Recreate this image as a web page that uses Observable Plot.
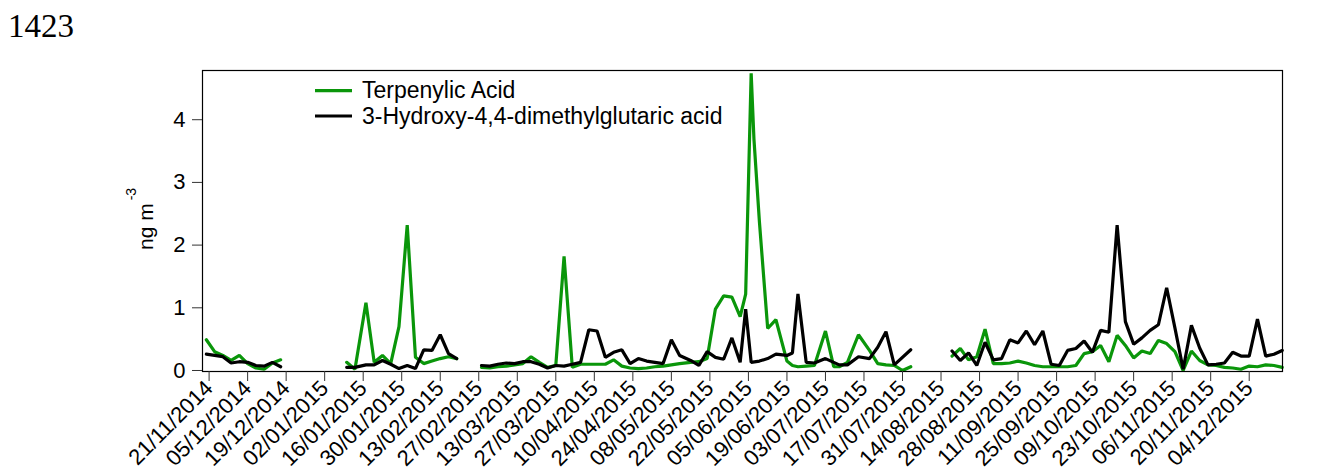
<!DOCTYPE html>
<html><head><meta charset="utf-8">
<script src="https://cdn.jsdelivr.net/npm/d3@7"></script>
<script src="https://cdn.jsdelivr.net/npm/@observablehq/plot@0.6"></script>
<style>
html,body{margin:0;padding:0;background:#fff;}
#chart{position:relative;width:1333px;height:474px;}
</style></head><body><div id="chart"></div>
<script>
// ---- data ----
const dates = [
  "2014-11-20","2014-11-23","2014-11-26","2014-11-29","2014-12-02","2014-12-05","2014-12-08","2014-12-11","2014-12-14","2014-12-17",
  "2015-01-10","2015-01-13","2015-01-17","2015-01-20","2015-01-23","2015-01-26","2015-01-29","2015-02-01","2015-02-04","2015-02-07","2015-02-10","2015-02-13","2015-02-16","2015-02-19",
  "2015-02-28","2015-03-03","2015-03-06","2015-03-09","2015-03-12","2015-03-15","2015-03-18","2015-03-21","2015-03-24","2015-03-27",
  "2015-03-30","2015-04-02","2015-04-05","2015-04-08","2015-04-11","2015-04-14","2015-04-17","2015-04-20","2015-04-23","2015-04-26",
  "2015-04-29","2015-05-02","2015-05-05","2015-05-08","2015-05-11","2015-05-15","2015-05-18","2015-05-21","2015-05-24","2015-05-27",
  "2015-05-30","2015-06-02","2015-06-04","2015-06-06","2015-06-07","2015-06-09","2015-06-12","2015-06-15","2015-06-19","2015-06-21",
  "2015-06-23","2015-06-26","2015-06-29","2015-07-03","2015-07-06","2015-07-08","2015-07-11","2015-07-15","2015-07-19","2015-07-22",
  "2015-07-25","2015-07-28","2015-07-31","2015-08-03",
  "2015-08-18","2015-08-21","2015-08-24","2015-08-27","2015-08-30","2015-09-02","2015-09-05","2015-09-08","2015-09-11","2015-09-14",
  "2015-09-17","2015-09-20","2015-09-23","2015-09-26","2015-09-29","2015-10-02","2015-10-05","2015-10-08","2015-10-11","2015-10-14",
  "2015-10-17","2015-10-20","2015-10-23","2015-10-26","2015-10-29","2015-11-01","2015-11-04","2015-11-07","2015-11-10","2015-11-13",
  "2015-11-16","2015-11-19","2015-11-22","2015-11-25","2015-11-28","2015-12-01","2015-12-04","2015-12-07","2015-12-10","2015-12-13",
  "2015-12-16"
];
const terpenylic = [
  0.49,0.30,0.24,0.16,0.24,0.11,0.04,0.02,0.12,0.17,
  0.13,0.02,1.08,0.13,0.24,0.11,0.70,2.32,0.21,0.11,0.15,0.19,0.22,0.19,
  0.05,0.04,0.06,0.07,0.09,0.11,0.22,0.13,0.05,0.08,
  1.82,0.05,0.10,0.10,0.10,0.10,0.17,0.07,0.04,0.03,
  0.04,0.06,0.07,0.09,0.11,0.13,0.14,0.19,0.98,1.19,
  1.17,0.86,1.22,4.74,3.70,2.37,0.67,0.81,0.15,0.08,
  0.06,0.07,0.08,0.63,0.06,0.06,0.13,0.57,0.32,0.11,
  0.09,0.08,0.00,0.06,
  0.23,0.35,0.17,0.22,0.66,0.11,0.11,0.12,0.15,0.12,
  0.08,0.06,0.06,0.06,0.06,0.08,0.27,0.30,0.40,0.14,
  0.56,0.40,0.20,0.31,0.27,0.48,0.43,0.30,0.00,0.31,
  0.16,0.09,0.08,0.05,0.04,0.02,0.07,0.06,0.09,0.08,
  0.05
];
const hdmga = [
  0.26,0.24,0.22,0.12,0.14,0.13,0.08,0.07,0.13,0.06,
  0.05,0.05,0.09,0.09,0.16,0.10,0.03,0.08,0.03,0.33,0.32,0.57,0.27,0.19,
  0.08,0.07,0.10,0.12,0.11,0.14,0.14,0.10,0.04,0.08,
  0.07,0.10,0.13,0.65,0.63,0.21,0.29,0.33,0.11,0.19,
  0.15,0.13,0.11,0.49,0.24,0.16,0.08,0.30,0.21,0.18,
  0.52,0.13,0.98,0.13,null,0.15,0.19,0.26,0.24,0.28,
  1.22,0.13,0.12,0.19,0.13,0.09,0.09,0.22,0.19,0.37,
  0.62,0.09,null,0.33,
  0.31,0.16,0.28,0.08,0.45,0.17,0.19,0.49,0.44,0.63,
  0.41,0.63,0.10,0.08,0.32,0.35,0.47,0.29,0.64,0.61,
  2.32,0.78,0.42,0.52,0.64,0.73,1.32,0.68,0.02,0.72,
  0.36,0.09,0.10,0.12,0.29,0.23,0.23,0.82,0.23,0.26,
  0.32
];
const xTickLabels = [
  "21/11/2014","05/12/2014","19/12/2014","02/01/2015","16/01/2015","30/01/2015","13/02/2015",
  "27/02/2015","13/03/2015","27/03/2015","10/04/2015","24/04/2015","08/05/2015","22/05/2015",
  "05/06/2015","19/06/2015","03/07/2015","17/07/2015","31/07/2015","14/08/2015","28/08/2015",
  "11/09/2015","25/09/2015","09/10/2015","23/10/2015","06/11/2015","20/11/2015","04/12/2015"
];
const yTicks = [0, 1, 2, 3, 4];
const seriesNames = ["Terpenylic Acid", "3-Hydroxy-4,4-dimethylglutaric acid"];
const seriesColors = ["#0a960a", "#000000"];
const figureNumber = "1423";

// ---- build ----
const parseISO = d3.utcParse("%Y-%m-%d");
const parseTick = d3.utcParse("%d/%m/%Y");
const fmtTick = d3.utcFormat("%d/%m/%Y");

const rows = dates.map((d, i) => ({date: parseISO(d), t: terpenylic[i], h: hdmga[i]}));
let seg = 0;
rows.forEach((r, i) => { if (i > 0 && (r.date - rows[i - 1].date) > 7 * 864e5) seg++; r.seg = seg; });
const greenRows = rows.filter(r => r.t != null);
const blackRows = rows.filter(r => r.h != null);

const plot = Plot.plot({
  width: 1333, height: 474,
  marginLeft: 202, marginRight: 51, marginTop: 70, marginBottom: 103,
  style: {fontFamily: "'Liberation Sans', Arial, sans-serif", fontSize: "22px", background: "#fff", color: "#000", overflow: "visible"},
  x: {type: "utc", domain: [new Date(Date.UTC(2014, 10, 18, 14, 24)), new Date(Date.UTC(2015, 11, 16, 2, 24))]},
  y: {domain: [-0.016, 4.785]},
  marks: [
    Plot.line(greenRows, {x: "date", y: "t", z: "seg", stroke: seriesColors[0], strokeWidth: 3.2, strokeLinejoin: "miter"}),
    Plot.line(blackRows, {x: "date", y: "h", z: "seg", stroke: seriesColors[1], strokeWidth: 3.2, strokeLinejoin: "miter"}),
    Plot.frame({stroke: "#000", strokeWidth: 1.2}),
    Plot.axisY({ticks: yTicks, tickSize: 10, tickPadding: 7, label: null, fontSize: 22, stroke: "#333", tickFormat: d3.format("d")}),
    Plot.axisX({ticks: xTickLabels.map(parseTick), tickSize: 10, tickRotate: -45, tickFormat: fmtTick, label: null, fontSize: 22, tickPadding: 3, stroke: "#333"})
  ]
});
document.getElementById("chart").appendChild(plot);

const svg = d3.select(plot);
svg.append("text").attr("x", 8).attr("y", 36.7).attr("text-anchor", "start")
  .style("font-family", "'Liberation Serif', 'Times New Roman', serif").style("font-size", "33px")
  .attr("fill", "#000").text(figureNumber);

// y-axis title with superscript
const yl = svg.append("text").attr("transform", "translate(153,250) rotate(-90)").attr("text-anchor", "start")
  .style("font-family", "'Liberation Sans', Arial, sans-serif").style("font-size", "21px").attr("fill", "#000");
yl.append("tspan").text("ng m");
yl.append("tspan").attr("dx", 3).attr("dy", -17).style("font-size", "14px").text("-3");

// legend
const legendY = [90.7, 116];
seriesNames.forEach((name, i) => {
  svg.append("line").attr("x1", 315).attr("x2", 352).attr("y1", legendY[i]).attr("y2", legendY[i])
    .attr("stroke", seriesColors[i]).attr("stroke-width", 3.2);
  svg.append("text").attr("x", 362).attr("y", legendY[i] + 7.5).attr("text-anchor", "start")
    .style("font-family", "'Liberation Sans', Arial, sans-serif").style("font-size", "23px")
    .attr("fill", "#000").text(name);
});
</script></body></html>
